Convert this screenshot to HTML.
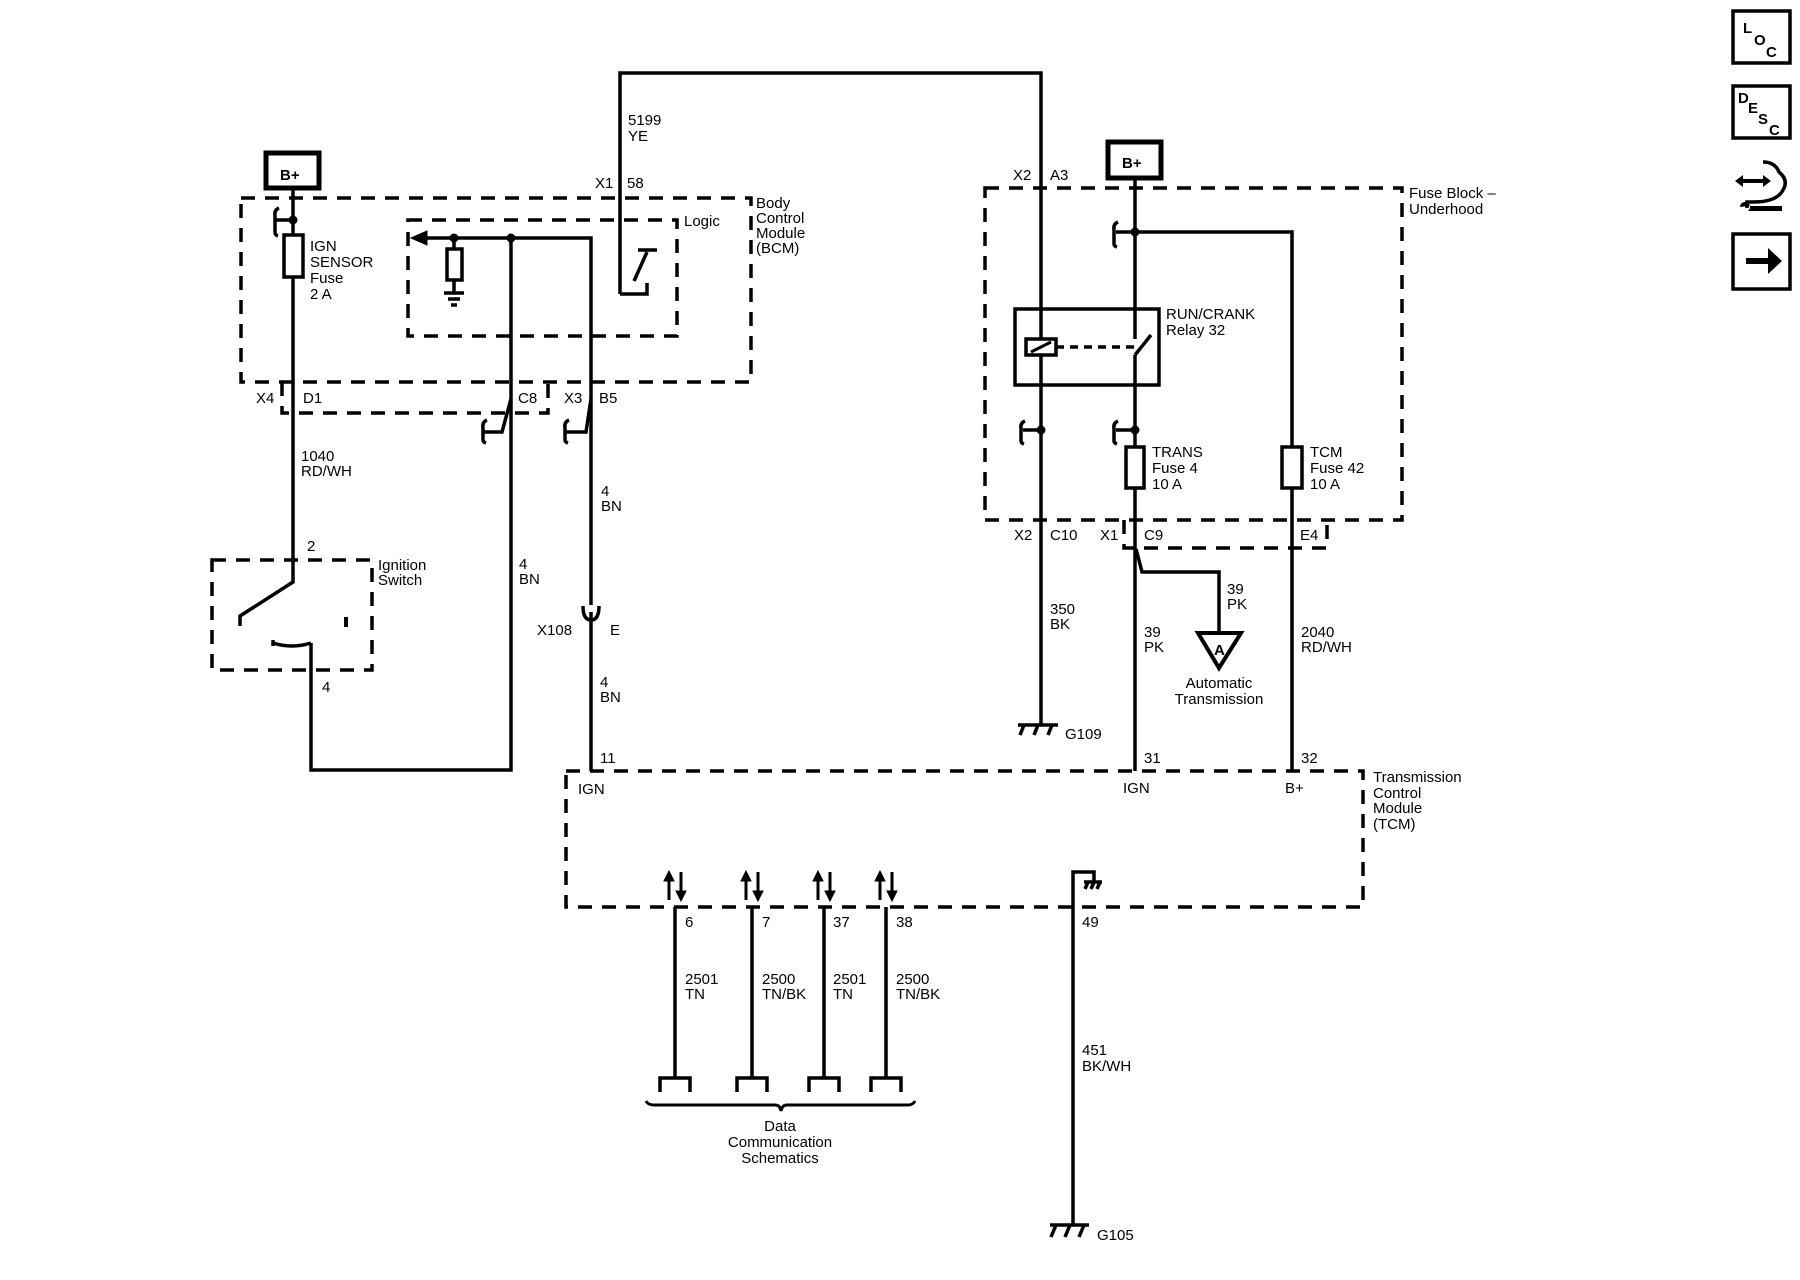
<!DOCTYPE html>
<html><head><meta charset="utf-8"><style>
html,body{margin:0;padding:0;background:#fff;}
svg{display:block}
text{font-family:"Liberation Sans",Arial,sans-serif;font-size:15px;fill:#000;}
.b{font-weight:bold}
</style></head><body>
<svg width="1800" height="1280" viewBox="0 0 1800 1280" xmlns="http://www.w3.org/2000/svg">
<g fill="none" stroke="#000" stroke-width="3.5">
<g stroke-dasharray="14,10">
<rect x="241" y="198" width="510" height="184"/>
<rect x="408" y="220" width="269" height="116"/>
<polyline points="282,382 282,413 548,413 548,382"/>
<rect x="212" y="560" width="160" height="110"/>
<rect x="566" y="771" width="797" height="136"/>
<rect x="985" y="188" width="417" height="332"/>
<polyline points="1124,520 1124,548 1327,548 1327,520"/>
</g>
<rect x="266" y="153" width="53" height="35" stroke-width="5"/>
<rect x="1108" y="142" width="53" height="36" stroke-width="5"/>
<path d="M293,188 V582 L240,616 V626"/>
<rect x="284" y="235" width="19" height="42" fill="#fff"/>
<path d="M293,220 H276 M279,208 q-5,2 -4,8 V232 q0,3 3,4"/>
<path d="M620,294 V73 H1041 V725"/>
<path d="M620,294 H647 V283 M634,281 L647,252 M638,250 H657"/>
<path d="M426,238 H591 V605 M591,612 V771"/>
<path d="M583,606 q0,14 8,14 q8,0 8,-14"/>
<path d="M454,238 V249 M454,280 V293 M444,293 H464 M448,299 H460 M451,305 H457"/>
<rect x="447" y="249" width="15" height="31" fill="#fff"/>
<path d="M511,238 V770 H311 V643"/>
<path d="M311,643 q-19,6 -38,0 M273,640 v6"/>
<path d="M346,617 V627" stroke-width="4"/>
<path d="M511,399 L502,432 H484 M487,420 q-5,2 -4,8 V440 q0,2 3,3"/>
<path d="M591,399 L586,432 H566 M569,420 q-5,2 -4,8 V440 q0,2 3,3"/>
<path d="M1135,178 V339 M1135,355 V771"/>
<path d="M1135,232 H1292 V771"/>
<path d="M1135,232 H1116 M1118,222 q-5,2 -4,8 V244 q0,2 3,3"/>
<rect x="1015" y="309" width="144" height="76"/>
<rect x="1026" y="339" width="30" height="16" fill="#fff"/>
<path d="M1031,352 L1051,342" stroke-width="3"/>
<path d="M1056,347 H1135" stroke-dasharray="8,6"/>
<path d="M1135,355 L1151,335"/>
<path d="M1041,430 H1023 M1025,421 q-5,2 -4,8 V441 q0,2 3,3"/>
<path d="M1135,430 H1116 M1118,421 q-5,2 -4,8 V441 q0,2 3,3"/>
<rect x="1126" y="447" width="18" height="41" fill="#fff"/>
<rect x="1282" y="447" width="20" height="41" fill="#fff"/>
<path d="M1136,549 L1142,572 H1219 V633"/>
<polygon points="1198,633 1241,633 1219,668" stroke-width="4"/>
<path d="M1018,725 H1058 M1024,725 l-4,10 M1038,725 l-4,10 M1052,725 l-4,10"/>
<path d="M675,907 V1078 M752,907 V1078 M824,907 V1078 M886,907 V1078"/>
<path d="M660,1092 V1078 H690 V1092 M737,1092 V1078 H767 V1092 M809,1092 V1078 H839 V1092 M871,1092 V1078 H901 V1092"/>
<path d="M646,1101 q2,4 8,4 H775 q5,0 6,6 q1,-6 6,-6 H908 q5,0 7,-4" stroke-width="3"/>
<path d="M1073,1225 V872 H1094 V882 M1084,882 H1102 M1088,882 l-3,7 M1094,882 l-3,7 M1100,882 l-3,7"/>
<path d="M1050,1225 H1089 M1056,1225 l-5,12 M1070,1225 l-5,12 M1084,1225 l-5,12"/>
</g>
<g fill="#000" stroke="#000" stroke-width="3">
<g id="ar"><path d="M669,900 V880 M681,872 V892"/><polygon points="664,881 674,881 669,871" stroke-width="1"/><polygon points="676,891 686,891 681,901" stroke-width="1"/></g>
<use href="#ar" x="77"/><use href="#ar" x="149"/><use href="#ar" x="211"/>
<polygon points="411,238 427,231 427,245" stroke-width="1"/>
<circle cx="293" cy="220" r="3"/><circle cx="454" cy="238" r="3"/><circle cx="511" cy="238" r="3"/>
<circle cx="1135" cy="232" r="3"/><circle cx="1041" cy="430" r="3"/><circle cx="1135" cy="430" r="3"/>
</g>
<text x="280" y="180" class="b">B+</text>
<text x="1122" y="168" class="b">B+</text>
<text x="310" y="251">IGN</text><text x="310" y="267">SENSOR</text><text x="310" y="283">Fuse</text><text x="310" y="299">2 A</text>
<text x="628" y="125">5199</text><text x="628" y="141">YE</text>
<text x="595" y="188">X1</text><text x="627" y="188">58</text>
<text x="684" y="226">Logic</text>
<text x="756" y="208">Body</text><text x="756" y="223">Control</text><text x="756" y="238">Module</text><text x="756" y="253">(BCM)</text>
<text x="256" y="403">X4</text><text x="303" y="403">D1</text><text x="518" y="403">C8</text><text x="564" y="403">X3</text><text x="599" y="403">B5</text>
<text x="301" y="461">1040</text><text x="301" y="476">RD/WH</text>
<text x="601" y="496">4</text><text x="601" y="511">BN</text>
<text x="307" y="551">2</text>
<text x="378" y="570">Ignition</text><text x="378" y="585">Switch</text>
<text x="519" y="569">4</text><text x="519" y="584">BN</text>
<text x="537" y="635">X108</text><text x="610" y="635">E</text>
<text x="322" y="692">4</text>
<text x="600" y="687">4</text><text x="600" y="702">BN</text>
<text x="600" y="763">11</text><text x="578" y="794">IGN</text>
<text x="1013" y="180">X2</text><text x="1050" y="180">A3</text>
<text x="1409" y="198">Fuse Block –</text><text x="1409" y="214">Underhood</text>
<text x="1166" y="319">RUN/CRANK</text><text x="1166" y="335">Relay 32</text>
<text x="1152" y="457">TRANS</text><text x="1152" y="473">Fuse 4</text><text x="1152" y="489">10 A</text>
<text x="1310" y="457">TCM</text><text x="1310" y="473">Fuse 42</text><text x="1310" y="489">10 A</text>
<text x="1014" y="540">X2</text><text x="1050" y="540">C10</text><text x="1100" y="540">X1</text><text x="1144" y="540">C9</text><text x="1300" y="540">E4</text>
<text x="1227" y="594">39</text><text x="1227" y="609">PK</text>
<text x="1050" y="614">350</text><text x="1050" y="629">BK</text>
<text x="1144" y="637">39</text><text x="1144" y="652">PK</text>
<text x="1301" y="637">2040</text><text x="1301" y="652">RD/WH</text>
<text x="1214" y="655" font-size="13" class="b">A</text>
<text x="1219" y="688" text-anchor="middle">Automatic</text><text x="1219" y="704" text-anchor="middle">Transmission</text>
<text x="1065" y="739">G109</text>
<text x="1144" y="763">31</text><text x="1301" y="763">32</text>
<text x="1123" y="793">IGN</text><text x="1285" y="793">B+</text>
<text x="1373" y="782">Transmission</text><text x="1373" y="798">Control</text><text x="1373" y="813">Module</text><text x="1373" y="829">(TCM)</text>
<text x="685" y="927">6</text><text x="762" y="927">7</text><text x="833" y="927">37</text><text x="896" y="927">38</text><text x="1082" y="927">49</text>
<text x="685" y="984">2501</text><text x="685" y="999">TN</text>
<text x="762" y="984">2500</text><text x="762" y="999">TN/BK</text>
<text x="833" y="984">2501</text><text x="833" y="999">TN</text>
<text x="896" y="984">2500</text><text x="896" y="999">TN/BK</text>
<text x="1082" y="1055">451</text><text x="1082" y="1071">BK/WH</text>
<text x="780" y="1131" text-anchor="middle">Data</text><text x="780" y="1147" text-anchor="middle">Communication</text><text x="780" y="1163" text-anchor="middle">Schematics</text>
<text x="1097" y="1240">G105</text>
<g fill="none" stroke="#000" stroke-width="3.5">
<rect x="1733" y="11" width="57" height="52"/>
<rect x="1733" y="86" width="57" height="52"/>
<rect x="1733" y="234" width="57" height="55"/>
<path d="M1763,162 q12,0 16,10 q10,8 4,18 q-6,12 -30,12 h-6 v6" />
</g>
<g fill="#000">
<text x="1743" y="33" class="b" font-size="13">L</text><text x="1754" y="45" class="b" font-size="13">O</text><text x="1766" y="57" class="b" font-size="13">C</text>
<text x="1738" y="103" class="b" font-size="13">D</text><text x="1748" y="113" class="b" font-size="13">E</text><text x="1758" y="124" class="b" font-size="13">S</text><text x="1769" y="135" class="b" font-size="13">C</text>
<path d="M1735,181 l8,-6 v4 h20 v-4 l8,6 l-8,6 v-4 h-20 v4z"/>
<path d="M1740,207 a5,5 0 1,1 8,4 h34 v-5 h-34z"/>
<path d="M1746,258 h22 v-10 l14,13 l-14,13 v-10 h-22z"/>
</g>
</svg>
</body></html>
